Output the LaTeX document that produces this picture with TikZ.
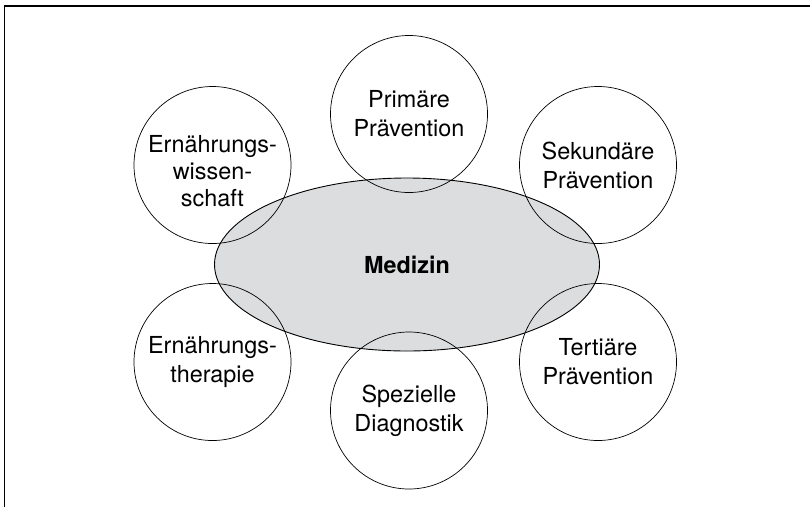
\documentclass[tikz,border=0pt]{standalone}
\usepackage{fontspec}
\setmainfont{TeX Gyre Heros}
\usepackage{tikz}
\usetikzlibrary{shapes.geometric}
\definecolor{medgray}{RGB}{220,221,223}
\tikzset{
  field/.style={circle, draw, line width=0.7pt, inner sep=0pt, minimum size=157pt,
    align=center, font=\fontsize{23.4}{29}\selectfont},
  fieldtext/.style={inner sep=0pt, align=center, font=\fontsize{23.4}{27}\selectfont},
  core/.style={ellipse, draw, line width=0.9pt, fill=medgray, inner sep=0pt,
    minimum width=385pt, minimum height=173pt, font=\fontsize{23.4}{28}\selectfont\bfseries}
}
\begin{document}
\begin{tikzpicture}[x=1pt, y=-1pt]
		\useasboundingbox (0,0) rectangle (810,507);
		\draw[line width=1.2pt] (4.5,507) -- (4.5,6) -- (810,6);
		\node[core] (med) at (407,264.5) {Medizin};
		\node[field] (prim) at (409,114) {Primäre\\Prävention};
		\node[field] (sek) at (598,165) {Sekundäre\\Prävention};
		\node[field] (tert) at (598,362) {Tertiäre\\Prävention};
		\node[field] (diag) at (409,410.5) {Spezielle\\Diagnostik};
		\node[field] (ther) at (212.5,362) {Ernährungs-\\therapie};
		\node[field] (wiss) at (212.5,165) {};
		\node[fieldtext, yshift=-6pt] (wisstext) at (wiss.center) {Ernährungs-\\wissen-\\schaft};
		\end{tikzpicture}
\end{document}
